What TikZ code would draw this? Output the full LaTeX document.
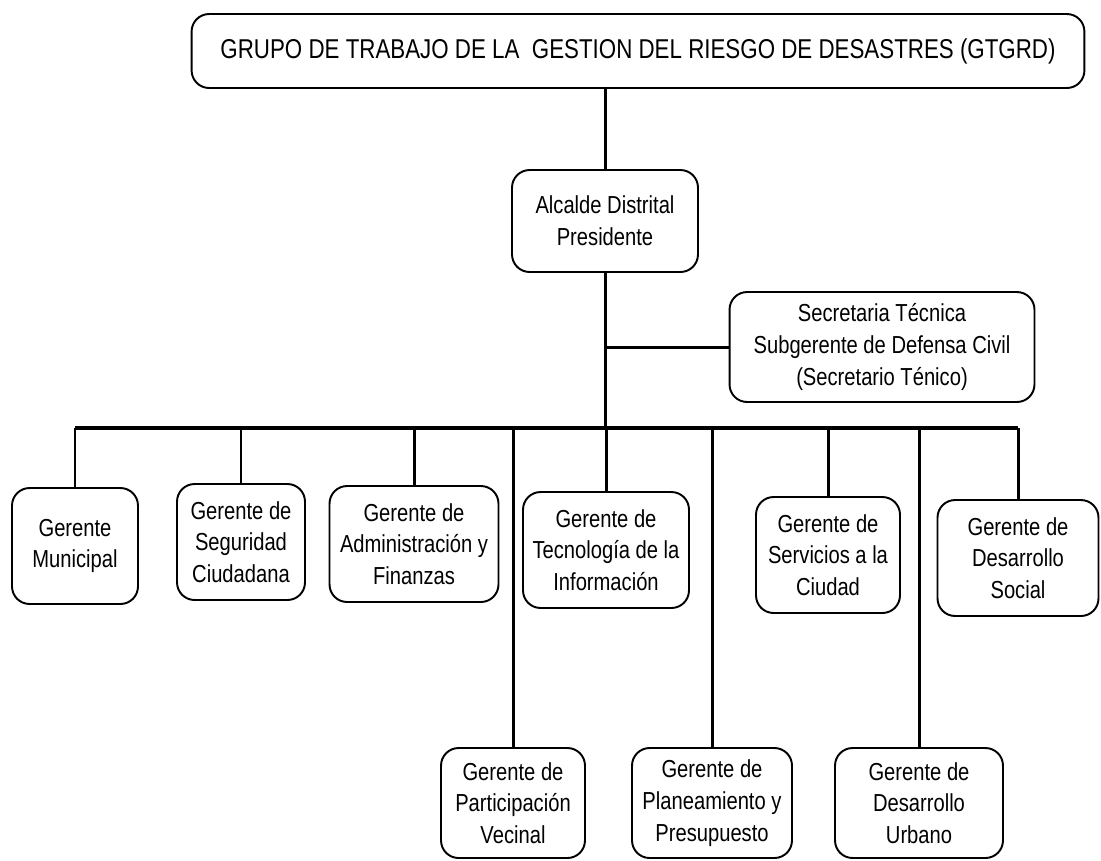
\documentclass[tikz,border=0pt]{standalone}
\usepackage{fontspec}
\setmainfont{Liberation Sans}[FakeStretch=0.82]
\usetikzlibrary{positioning}

\tikzset{
  orgbox/.style={draw, line width=1.1pt, rounded corners=10pt, align=center,
    inner sep=2pt, font=\fontsize{14}{18}\selectfont},
  link/.style={line width=1.7pt},
}

\begin{document}
\begin{tikzpicture}[x=0.02cm,y=-0.02cm]
    \useasboundingbox (0,0) rectangle (1101,860);
    % cabecera
    \node[orgbox, minimum width=17.86cm, minimum height=1.48cm, font=\fontsize{15.5}{18}\selectfont]
      (grupo) at (638,51) {GRUPO DE TRABAJO DE LA\ \ GESTION DEL RIESGO DE DESASTRES (GTGRD)};
    \node[orgbox, minimum width=3.72cm, minimum height=2.04cm] (alcalde) at (605,221)
      {Alcalde Distrital\\Presidente};
    \node[orgbox, minimum width=6.1cm, minimum height=2.2cm] (secre) at (882,347)
      {Secretaria Técnica\\Subgerente de Defensa Civil\\(Secretario Ténico)};
    \coordinate (bus) at (540,428);
    % gerencias, primera fila
    \foreach \name/\x/\y/\w/\txt in {
        mun/75/546/2.52/{Gerente\\Municipal},
        seg/241/542/2.56/{Gerente de\\Seguridad\\Ciudadana},
        adm/414/544/3.38/{Gerente de\\Administración y\\Finanzas},
        tec/606/550/3.32/{Gerente de\\Tecnología de la\\Información},
        ser/828/555/2.88/{Gerente de\\Servicios a la\\Ciudad},
        soc/1018/558/3.22/{Gerente de\\Desarrollo\\Social}} {
      \node[orgbox, minimum width=\w cm, minimum height=2.32cm] (\name) at (\x,\y) {\txt};
    }
    % gerencias, segunda fila
    \foreach \name/\x/\w/\txt in {
        par/513/2.88/{Gerente de\\Participación\\Vecinal},
        pla/712/3.2/{Gerente de\\Planeamiento y\\Presupuesto},
        urb/919/3.36/{Gerente de\\Desarrollo\\Urbano}} {
      \node[orgbox, minimum width=\w cm, minimum height=2.2cm] (\name) at (\x,803) {\txt};
    }
    % lineas
    \draw[link] (grupo.south -| alcalde) -- (alcalde.north);
    \draw[link] (alcalde.south) -- (alcalde.south |- bus);
    \draw[link] (alcalde.south |- secre.west) -- (secre.west);
    \draw[line width=2.2pt] (mun.north |- bus) -- (soc.north |- bus);
    \foreach \name in {mun,seg,adm,tec,ser,soc,par,pla,urb}
      \draw[link] (\name.north |- bus) -- (\name.north);
\end{tikzpicture}
\end{document}
